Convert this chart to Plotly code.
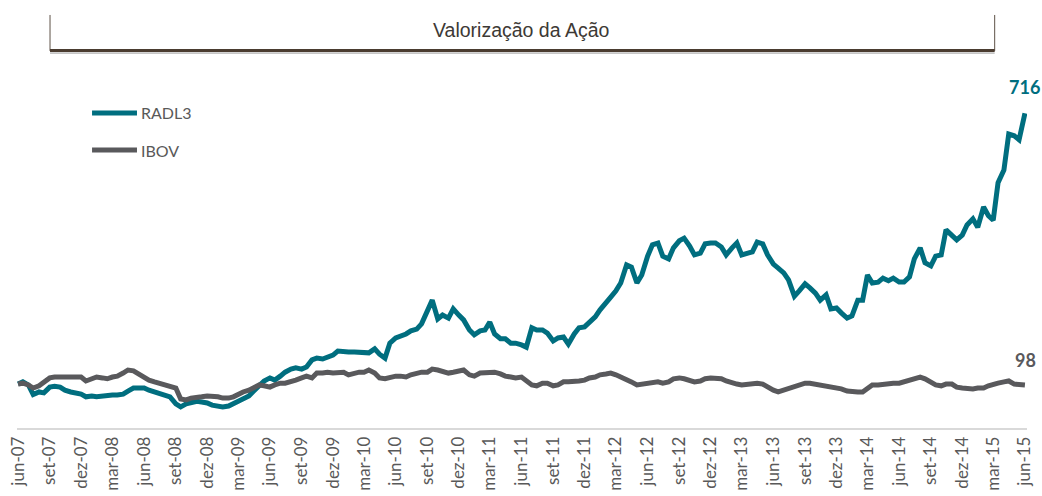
import pandas as pd
import plotly.graph_objects as go

# Semi-monthly observations (1st and 15th), index base 100 in jun-2007
start_date = "2007-06-01"
radl3 = [
    100,105,98,76,82,80,93,95,93,86,82,80,77,71,73,71,73,75,75,75,77,84,91,91,
    91,86,82,80,75,71,55,48,55,59,61,59,57,52,50,48,50,55,61,68,73,84,96,107,
    114,109,118,127,134,137,134,139,155,159,157,162,166,175,173,173,173,173,171,171,180,168,159,193,
    205,209,214,221,225,237,269,291,248,257,250,271,257,246,223,212,221,223,241,214,203,203,193,193,
    189,184,228,223,223,216,198,205,207,191,214,228,230,241,253,269,287,298,312,330,371,366,330,348,
    391,417,421,391,385,410,426,432,414,394,398,419,421,421,412,394,410,421,394,396,401,423,419,394,
    373,364,353,337,300,312,328,319,307,291,303,271,273,262,250,255,291,291,348,330,332,341,335,341,
    332,332,344,385,410,376,369,391,394,451,439,428,439,462,476,457,503,483,473,558,587,669,665,656,
    716,
]
ibov = [
    100,102,98,91,96,105,114,116,116,114,116,116,116,107,112,116,114,112,116,118,125,132,130,123,
    116,109,105,102,98,96,91,66,64,68,71,71,73,73,71,68,68,71,77,82,86,91,98,96,
    93,98,102,102,105,109,114,118,114,125,125,127,125,125,127,121,125,127,127,132,125,114,112,116,
    118,118,116,121,125,127,127,134,132,130,125,127,130,132,121,118,125,125,125,127,123,118,116,114,
    116,109,98,96,102,102,96,98,105,105,105,107,109,114,116,121,123,125,121,116,112,105,98,100,
    102,105,105,102,105,112,114,112,107,105,107,112,114,114,112,107,102,100,98,100,102,102,100,93,
    86,82,86,91,96,100,102,102,100,98,96,93,93,89,84,82,82,82,91,98,98,100,100,102,
    102,105,107,112,116,112,105,98,96,100,100,93,91,89,89,91,91,96,100,102,105,107,100,98,
    98,
]
series_names = ["RADL3", "IBOV"]
series_colors = ["#006E7F", "#59595C"]
title_text = "Valorização da Ação"

month_pt = {3: "mar", 6: "jun", 9: "set", 12: "dez"}
tick_dates = pd.date_range("2007-06-01", "2015-06-01", freq="3MS")
tick_labels = [f"{month_pt[d.month]}-{d.strftime('%y')}" for d in tick_dates]

dates = pd.date_range(start_date, periods=len(radl3), freq="SMS")

fig = go.Figure()
for name, vals, col in zip(series_names, [radl3, ibov], series_colors):
    fig.add_trace(go.Scatter(x=dates, y=vals, mode="lines", name=name,
                             line=dict(color=col, width=5), showlegend=False,
                             hoverinfo="x+y+name"))

# end-value labels
fig.add_annotation(x=dates[-1], y=radl3[-1], text=f"<b>{radl3[-1]}</b>", showarrow=False,
                   yshift=26, font=dict(family="Lato", size=18, color=series_colors[0]))
fig.add_annotation(x=dates[-1], y=ibov[-1], text=f"<b>{ibov[-1]}</b>", showarrow=False,
                   yshift=25, xshift=1, font=dict(family="Lato", size=18, color=series_colors[1]))

# manual legend
for k, (name, col) in enumerate(zip(series_names, series_colors)):
    yy = [0.736, 0.6495][k]
    fig.add_shape(type="line", xref="paper", yref="paper", x0=0.0743, x1=0.1188, y0=yy, y1=yy,
                  line=dict(color=col, width=5), layer="above")
    fig.add_annotation(xref="paper", yref="paper", x=0.1212, y=yy, text=name, showarrow=False,
                       xanchor="left", yanchor="middle",
                       font=dict(family="Lato", size=16, color="#595959"))

# title frame
fig.add_shape(type="line", xref="paper", yref="paper", x0=0.0327, x1=0.0327, y0=0.881, y1=0.965,
              line=dict(color="#5e5247", width=1))
fig.add_shape(type="line", xref="paper", yref="paper", x0=0.968, x1=0.968, y0=0.881, y1=0.965,
              line=dict(color="#5e5247", width=1))
fig.add_shape(type="line", xref="paper", yref="paper", x0=0.0327, x1=0.968, y0=0.882, y1=0.882,
              line=dict(color="#4A3C30", width=3))
fig.add_shape(type="line", xref="paper", yref="paper", x0=0.0327, x1=0.968, y0=0.876, y1=0.876,
              line=dict(color="#9a9a9a", width=1))
fig.add_annotation(xref="paper", yref="paper", x=0.499, y=0.93, text=title_text, showarrow=False,
                   xanchor="center", yanchor="middle",
                   font=dict(family="Liberation Sans", size=19.5, color="#3d3935"))

fig.update_layout(
    width=1042, height=496,
    margin=dict(l=17, r=15, t=0, b=68, autoexpand=False),
    paper_bgcolor="white", plot_bgcolor="white",
    xaxis=dict(type="date", range=["2007-05-29", "2015-06-07"],
               tickmode="array", tickvals=tick_dates, ticktext=tick_labels,
               tickangle=-90, ticks="", showgrid=False, zeroline=False,
               showline=True, linecolor="#D9D9D9", linewidth=1.5,
               tickfont=dict(family="Lato", size=17, color="#595959")),
    yaxis=dict(range=[0, 974], visible=False, showgrid=False, zeroline=False),
)

fig.write_html("out.html", config={"displayModeBar": False},
               post_script="document.body.style.margin='0';document.body.style.overflow='hidden';")
